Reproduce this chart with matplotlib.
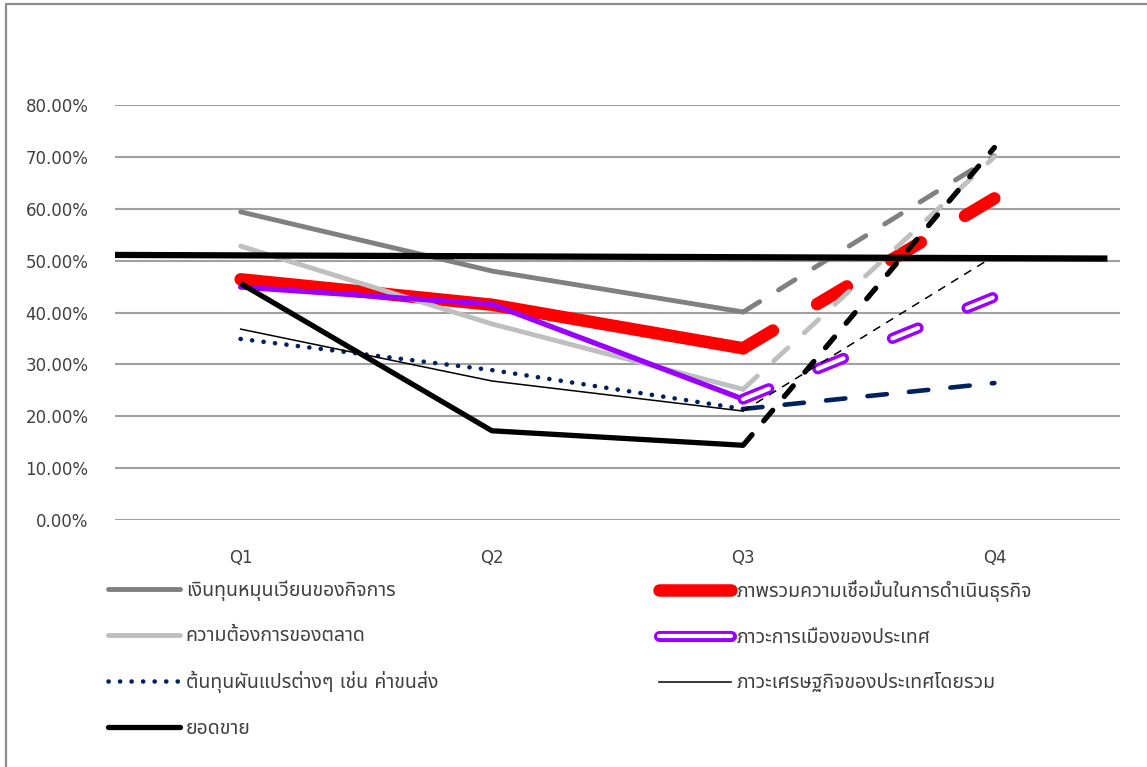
import matplotlib
matplotlib.use("Agg")
import matplotlib.pyplot as plt
from matplotlib.lines import Line2D

plt.rcParams['font.family'] = ['DejaVu Sans', 'Noto Sans Thai', 'Noto Sans Thai UI', 'Loma',
                               'Garuda', 'Tlwg Typo', 'Sarabun', 'Noto Sans']
plt.rcParams['lines.scale_dashes'] = False

quarters = ['Q1', 'Q2', 'Q3', 'Q4']

names = ['เงินทุนหมุนเวียนของกิจการ',
         'ภาพรวมความเชื่อมั่นในการดำเนินธุรกิจ',
         'ความต้องการของตลาด',
         'ภาวะการเมืองของประเทศ',
         'ต้นทุนผันแปรต่างๆ เช่น ค่าขนส่ง',
         'ภาวะเศรษฐกิจของประเทศโดยรวม',
         'ยอดขาย']

working_capital = [59.4, 48.0, 40.1, 70.2]
confidence = [46.4, 41.5, 33.1, 62.0]
market_demand = [52.8, 37.8, 25.2, 70.0]
politics = [44.9, 41.6, 23.3, 43.0]
variable_cost = [34.9, 28.9, 21.4, 26.4]
economy = [36.8, 26.8, 21.0, 50.9]
sales = [45.6, 17.2, 14.4, 71.8]
average_line = [51.1, 50.4]

fig = plt.figure(figsize=(11.47, 7.67), dpi=100)
ax = fig.add_axes([115 / 1147, 1 - 520 / 767, 1005 / 1147, 415 / 767])

xs = list(range(len(quarters)))
hist = slice(0, 3)
fcst = slice(2, 4)

# grey: working capital
ax.plot(xs[hist], working_capital[hist], color='#808080', lw=3.5, solid_capstyle='round', zorder=2)
ax.plot(xs[fcst], working_capital[fcst], color='#808080', lw=3.5, dashes=(14, 16),
        dash_capstyle='round', zorder=2)

# red: confidence
ax.plot(xs[hist], confidence[hist], color='#FF0000', lw=9, solid_capstyle='round',
        solid_joinstyle='round', zorder=3)
ax.plot(xs[fcst], confidence[fcst], color='#FF0000', lw=9, dashes=(25, 37),
        dash_capstyle='round', zorder=3)

# light grey: market demand
ax.plot(xs[hist], market_demand[hist], color='#BFBFBF', lw=3.5, solid_capstyle='round', zorder=4)
ax.plot(xs[fcst], market_demand[fcst], color='#BFBFBF', lw=3.5, dashes=(14, 16),
        dash_capstyle='round', zorder=4)

# purple: politics (hollow dashes for forecast)
ax.plot(xs[hist], politics[hist], color='#9B00FF', lw=3.8, solid_capstyle='round',
        solid_joinstyle='round', zorder=5)
ax.plot(xs[fcst], politics[fcst], color='#9B00FF', lw=8, dashes=(20, 38),
        dash_capstyle='round', zorder=5)
ax.plot(xs[fcst], politics[fcst], color='white', lw=3, dashes=(20, 38),
        dash_capstyle='round', zorder=5)

# navy: variable cost
ax.plot(xs[hist], variable_cost[hist], color='#002060', lw=3.3, dashes=(0.1, 8.2),
        dash_capstyle='round', zorder=6)
ax.plot(xs[fcst], variable_cost[fcst], color='#002060', lw=3.3, dashes=(14, 16),
        dash_capstyle='round', zorder=6)

# thin black: economy
ax.plot(xs[hist], economy[hist], color='black', lw=1.1, zorder=7)
ax.plot(xs[fcst], economy[fcst], color='black', lw=1.1, dashes=(6, 5), zorder=7)

# thick black: sales
ax.plot(xs[hist], sales[hist], color='black', lw=3.8, solid_capstyle='butt', zorder=8)
ax.plot(xs[fcst], sales[fcst], color='black', lw=3.8, dashes=(10, 13),
        dash_capstyle='round', zorder=8)

# flat reference line across the plot
ax.plot([-0.5, 3.45], average_line, color='black', lw=4.5, solid_capstyle='butt', zorder=9)

ax.set_xlim(-0.5, 3.5)
ax.set_ylim(0, 80)
ax.set_yticks(range(0, 81, 10))
ax.set_yticklabels([f'{v:.2f}%' for v in range(0, 81, 10)])
ax.set_xticks(xs)
ax.set_xticklabels(quarters)
ax.tick_params(axis='both', length=0, labelsize=12, colors='#404040')
ax.tick_params(axis='x', pad=21)
ax.tick_params(axis='y', pad=19)
ax.grid(axis='y', color='#A0A0A0', lw=1.5, zorder=0)
for s in ax.spines.values():
    s.set_visible(False)

# legend, two columns built as two legends
h_grey = Line2D([], [], color='#808080', lw=3.5, solid_capstyle='round')
h_red = Line2D([], [], color='#FF0000', lw=9, solid_capstyle='round')
h_lgrey = Line2D([], [], color='#BFBFBF', lw=3.5, solid_capstyle='round')
h_purple = (Line2D([], [], color='#9B00FF', lw=8, solid_capstyle='round'),
            Line2D([], [], color='white', lw=3, solid_capstyle='round'))
h_navy = Line2D([], [], color='#002060', lw=3.3, dashes=(0.1, 8.2), dash_capstyle='round')
h_thin = Line2D([], [], color='black', lw=1.1)
h_sales = Line2D([], [], color='black', lw=3.8, solid_capstyle='round')

leg_kw = dict(frameon=False, fontsize=14, handlelength=3.7, handletextpad=0.3,
              labelspacing=1.32, borderaxespad=0, borderpad=0, labelcolor='#404040')
leg1 = fig.legend([h_grey, h_lgrey, h_navy, h_sales],
                  [names[0], names[2], names[4], names[6]],
                  loc='upper left', bbox_to_anchor=(108 / 1147, 1 - 580 / 767), **leg_kw)
leg2 = fig.legend([h_red, h_purple, h_thin],
                  [names[1], names[3], names[5]],
                  loc='upper left', bbox_to_anchor=(659 / 1147, 1 - 580 / 767), **leg_kw)

# chart frame (left and top edges visible)
fig.add_artist(Line2D([6 / 1147, 6 / 1147, 1.0], [0, 1 - 4 / 767, 1 - 4 / 767],
                      transform=fig.transFigure, color='#8C8C8C', lw=1.6))

fig.savefig('out.png', dpi=100)
